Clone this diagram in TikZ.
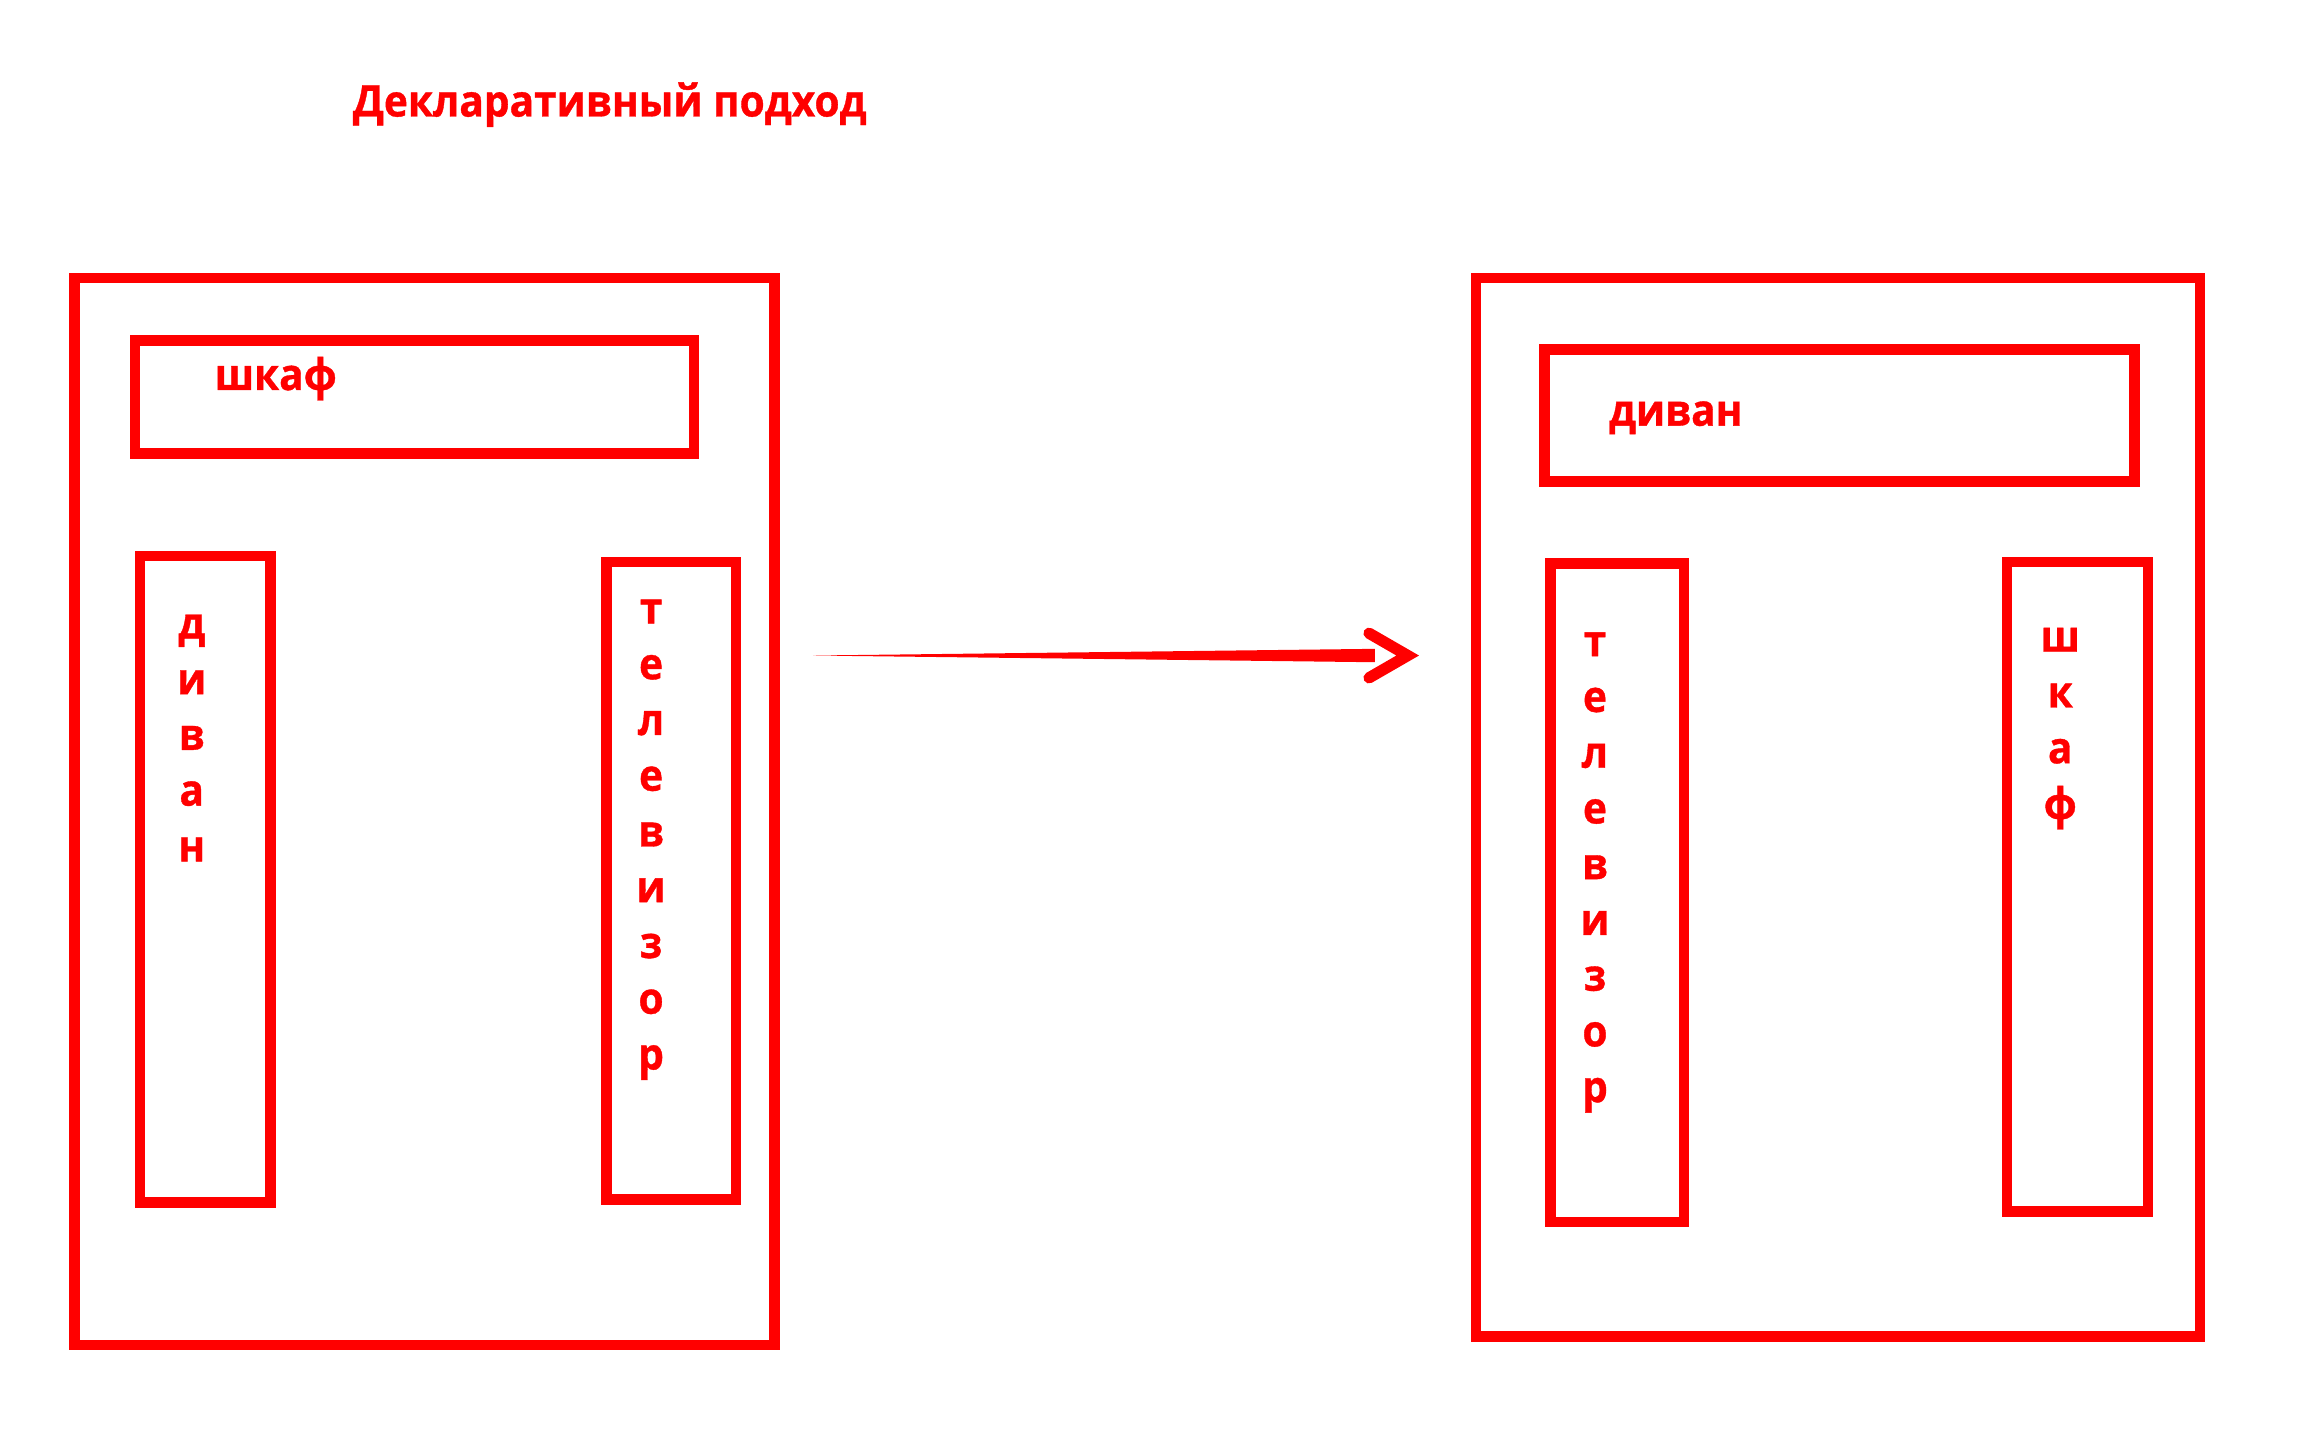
\documentclass[tikz,border=0pt]{standalone}
\usepackage{fontspec}
\setmainfont{Open Sans}[FakeStretch=0.93,BoldFeatures={FakeBold=0.8}]
\usetikzlibrary{fit,calc}

\begin{document}
\begin{tikzpicture}[x=0.5pt,y=-0.5pt,
	box/.style={draw=red,line width=3.5pt,inner sep=0pt},
	word/.style={text=red,inner sep=0pt,font=\bfseries\fontsize{14.7}{18}\selectfont},
	column/.style={word,align=center,anchor=north,font=\bfseries\fontsize{14.7}{18.75}\selectfont},
	arrowhead/.style={draw=red,line width=3.8pt,line cap=round,line join=miter}]
\useasboundingbox (0,0) rectangle (1550,979);
% title
\node[word,anchor=mid west] (title) at (237,73) {Декларативный подход};
% before
\node[box,fit={(50,187) (521,905)}] (room1) {};
\node[box,fit={(91,229) (467,305)}] (shkaf1) {};
\node[box,fit={(94,374) (182,809)}] (divan1) {};
\node[box,fit={(408,378) (495,807)}] (tv1) {};
\node[word,anchor=mid west] (shkaf1-t) at (144,257) {шкаф};
\node[column] (divan1-t) at (129,413) {д\\и\\в\\а\\н};
\node[column] (tv1-t) at (438,403) {т\\е\\л\\е\\в\\и\\з\\о\\р};
% after
\node[box,fit={(993,187) (1480,899)}] (room2) {};
\node[box,fit={(1039,235) (1436,324)}] (divan2) {};
\node[box,fit={(1043,379) (1133,822)}] (tv2) {};
\node[box,fit={(1350,378) (1445,815)}] (shkaf2) {};
\node[word,anchor=mid west] (divan2-t) at (1082,281) {диван};
\node[column] (tv2-t) at (1073,425) {т\\е\\л\\е\\в\\и\\з\\о\\р};
\node[column] (shkaf2-t) at (1386,422) {ш\\к\\а\\ф};
% arrow
\coordinate (from) at (547,441);
\coordinate (to) at (947,441);
\fill[red] (from) -- ($(to)+(-22,-4.5)$) -- ($(to)+(-22,4.5)$) -- cycle;
\draw[arrowhead] ($(to)+(-26,-15)$) -- (to) -- ($(to)+(-26,15)$);
\end{tikzpicture}
\end{document}
